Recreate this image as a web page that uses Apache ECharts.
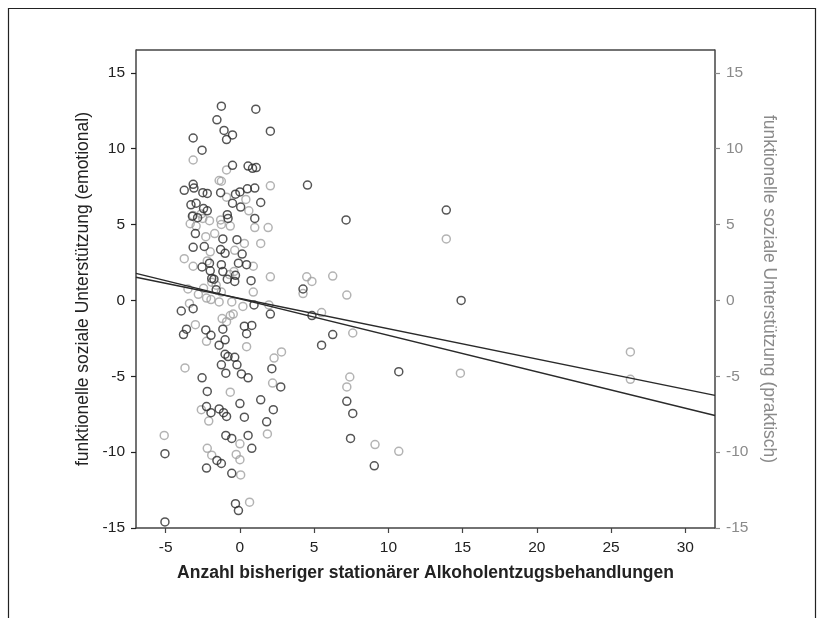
<!DOCTYPE html>
<html>
<head>
<meta charset="utf-8">
<script src="https://cdn.jsdelivr.net/npm/echarts@6/dist/echarts.min.js"></script>
<style>
  html, body { margin: 0; padding: 0; background: #fff; }
  #chart { width: 829px; height: 618px; }
</style>
</head>
<body>
<div id="chart"></div>
<script>
// Achsenbeschriftung
var xTicks = [-5, 0, 5, 10, 15, 20, 25, 30];
var yTicks = [-15, -10, -5, 0, 5, 10, 15];

// funktionelle soziale Unterstützung (emotional) - dunkle Kreise
var emoPoints = [
    [-1.25, 12.8], [1.07, 12.6], [-1.55, 11.9], [2.05, 11.15], [-1.07, 11.2], [-0.5, 10.9], [-0.9, 10.6],
    [-3.15, 10.7], [-2.55, 9.9], [-0.5, 8.9], [0.55, 8.85], [0.85, 8.7], [1.1, 8.75],
    [4.55, 7.6], [-3.15, 7.65], [-3.1, 7.4], [-3.75, 7.25], [-2.5, 7.1], [-2.2, 7.05], [-1.3, 7.1],
    [-0.3, 7.0], [0.0, 7.15], [0.5, 7.35], [1.0, 7.4],
    [1.4, 6.45], [-3.3, 6.3], [-2.95, 6.4], [-2.45, 6.05], [-2.2, 5.9], [-0.5, 6.4], [0.05, 6.15],
    [-0.85, 5.65], [-0.8, 5.4], [-3.2, 5.55], [-2.85, 5.45], [1.0, 5.4], [7.15, 5.3], [13.9, 5.95],
    [-3.0, 4.4], [-1.15, 4.05], [-0.2, 4.0], [-3.15, 3.5], [-2.4, 3.55], [-1.3, 3.35], [-1.0, 3.1], [0.15, 3.05],
    [-2.55, 2.2], [-2.05, 2.45], [-1.25, 2.35], [0.45, 2.35], [-0.1, 2.45], [-2.0, 1.95], [-1.15, 1.9],
    [-0.3, 1.65], [-1.75, 1.4], [-0.85, 1.4], [-0.35, 1.25], [0.75, 1.3], [-1.9, 1.45],
    [4.25, 0.75], [-1.6, 0.7], [14.9, 0.0],
    [-3.95, -0.7], [-3.15, -0.55], [0.95, -0.3], [2.05, -0.9], [4.85, -1.0], [0.3, -1.7], [0.8, -1.65],
    [-3.8, -2.25], [-3.6, -1.9], [-2.3, -1.95], [-1.15, -1.9], [-1.95, -2.3], [0.45, -2.2], [6.25, -2.25],
    [-1.4, -2.95], [5.5, -2.95], [-1.0, -2.6],
    [-1.0, -3.55], [-0.8, -3.7], [-0.35, -3.75], [-1.25, -4.25], [-0.2, -4.25], [2.15, -4.5],
    [-0.95, -4.8], [0.1, -4.85], [10.7, -4.7], [-2.55, -5.1], [0.55, -5.1], [2.75, -5.7],
    [-2.2, -6.0], [7.2, -6.65], [1.4, -6.55], [0.0, -6.8], [-2.25, -7.0], [-1.95, -7.4], [-1.4, -7.15],
    [-1.1, -7.4], [-0.9, -7.65], [2.25, -7.2], [0.3, -7.7], [7.6, -7.45], [1.8, -8.0],
    [-0.95, -8.9], [-0.55, -9.1], [0.55, -8.9], [7.45, -9.1], [0.8, -9.75], [-5.05, -10.1],
    [-1.55, -10.55], [-1.25, -10.75], [-2.25, -11.05], [9.05, -10.9], [-0.55, -11.4],
    [-0.3, -13.4], [-0.1, -13.85], [-5.05, -14.6]
];

// funktionelle soziale Unterstützung (praktisch) - hellgraue Kreise
var prakPoints = [
    [-3.15, 9.25], [-0.9, 8.6], [-1.4, 7.9], [-1.25, 7.85], [2.05, 7.55], [0.4, 6.65], [-0.9, 6.8],
    [-2.6, 5.7], [-3.35, 5.05], [-2.95, 4.9], [-2.05, 5.25], [-1.3, 5.3], [-1.25, 5.0], [-0.65, 4.9],
    [1.0, 4.8], [1.9, 4.8], [-3.15, 5.6], [-2.5, 5.4], [13.9, 4.05], [-2.3, 4.2], [0.3, 3.75], [1.4, 3.75],
    [-0.35, 3.3], [-3.75, 2.75], [-3.15, 2.25], [0.9, 2.25], [-0.7, 1.7], [2.05, 1.55], [6.25, 1.6],
    [4.5, 1.55], [4.85, 1.25], [-1.9, 1.2], [-2.45, 0.8], [-3.5, 0.75], [4.25, 0.45], [7.2, 0.35],
    [-1.25, 0.55], [0.9, 0.55], [-2.25, 0.15], [-1.95, 0.05], [-0.55, -0.1], [1.95, -0.3], [5.5, -0.8],
    [-0.65, -1.0], [-0.45, -0.9], [-0.9, -1.4], [-3.0, -1.6], [7.6, -2.15], [-2.25, -2.7], [0.45, -3.05],
    [2.8, -3.4], [2.3, -3.8], [-3.7, -4.45], [14.85, -4.8], [2.2, -5.45], [7.4, -5.05], [7.2, -5.7],
    [26.3, -3.4], [26.3, -5.2], [-0.65, -6.05], [-2.6, -7.2], [-2.1, -7.95], [1.85, -8.8], [-5.1, -8.9],
    [0.0, -9.45], [9.1, -9.5], [-2.2, -9.75], [10.7, -9.95], [-1.9, -10.2], [-0.25, -10.15], [0.0, -10.5],
    [0.05, -11.5], [0.65, -13.3],
    [-1.6, 1.0], [-0.4, 1.9], [-2.2, 2.6], [-1.2, -1.2], [0.2, -0.4], [-1.7, 4.4], [0.6, 5.9],
    [-2.8, 0.4], [-1.4, -0.1], [-2.0, 3.2], [-3.4, -0.2]
];

// Regressionsgeraden (Endpunkte am Rand des Diagramms)
var emoLine = [[-7, 1.78], [32, -7.58]];
var prakLine = [[-7, 1.52], [32, -6.26]];

var chart = echarts.init(document.getElementById('chart'));

var font = 'Liberation Sans, Arial, sans-serif';
var dark = '#2a2a2a';
var grey = '#a0a0a0';

function yAxisBase(pos, color, name, rot, gap) {
    return {
        type: 'value',
        position: pos,
        min: -15,
        max: 16.5,
        name: name,
        nameLocation: 'middle',
        nameRotate: rot,
        nameGap: gap,
        nameTextStyle: { color: color, fontSize: 17.5, fontFamily: font },
        axisLine: { show: true, onZero: false, lineStyle: { color: '#444', width: 1.5 } },
        axisTick: { show: true, length: 5, customValues: yTicks, lineStyle: { color: color, width: 1.2 } },
        axisLabel: { customValues: yTicks, color: color, fontSize: 15.5, fontFamily: font, margin: 11 },
        splitLine: { show: false }
    };
}

chart.setOption({
    animation: false,
    backgroundColor: '#fff',
    grid: { left: 136, right: 114, top: 50, bottom: 90 },
    graphic: [{
        type: 'rect',
        shape: { x: 8.5, y: 8.5, width: 807, height: 640 },
        style: { fill: 'none', stroke: '#222', lineWidth: 1.2 }
    }, {
        // obere Rahmenlinie des Plotbereichs
        type: 'line',
        shape: { x1: 136, y1: 50, x2: 715, y2: 50 },
        style: { stroke: '#444', lineWidth: 1.5 }
    }],
    xAxis: {
        type: 'value',
        min: -7,
        max: 32,
        name: 'Anzahl bisheriger stationärer Alkoholentzugsbehandlungen',
        nameLocation: 'middle',
        nameGap: 36,
        nameTextStyle: { color: '#222', fontSize: 17.5, fontWeight: 'bold', fontFamily: font },
        axisLine: { onZero: false, lineStyle: { color: '#444', width: 1.5 } },
        axisTick: { length: 5, customValues: xTicks, lineStyle: { color: '#444', width: 1.2 } },
        axisLabel: { customValues: xTicks, color: '#222', fontSize: 15.5, fontFamily: font, margin: 12 },
        splitLine: { show: false }
    },
    yAxis: [
        yAxisBase('left', '#222', 'funktionelle soziale Unterstützung (emotional)', 90, 42),
        yAxisBase('right', '#8a8a8a', 'funktionelle soziale Unterstützung (praktisch)', -90, 45)
    ],
    series: [{
        name: 'praktisch',
        type: 'scatter',
        yAxisIndex: 1,
        symbol: 'circle',
        symbolSize: 8,
        itemStyle: { color: 'rgba(0,0,0,0)', borderColor: grey, borderWidth: 1.5 },
        data: prakPoints
    }, {
        name: 'emotional',
        type: 'scatter',
        symbol: 'circle',
        symbolSize: 8,
        itemStyle: { color: 'rgba(0,0,0,0)', borderColor: dark, borderWidth: 1.5 },
        data: emoPoints
    }, {
        type: 'line',
        data: emoLine,
        symbol: 'none',
        lineStyle: { color: dark, width: 1.5 }
    }, {
        type: 'line',
        yAxisIndex: 1,
        data: prakLine,
        symbol: 'none',
        lineStyle: { color: dark, width: 1.5 }
    }]
});
</script>
</body>
</html>
